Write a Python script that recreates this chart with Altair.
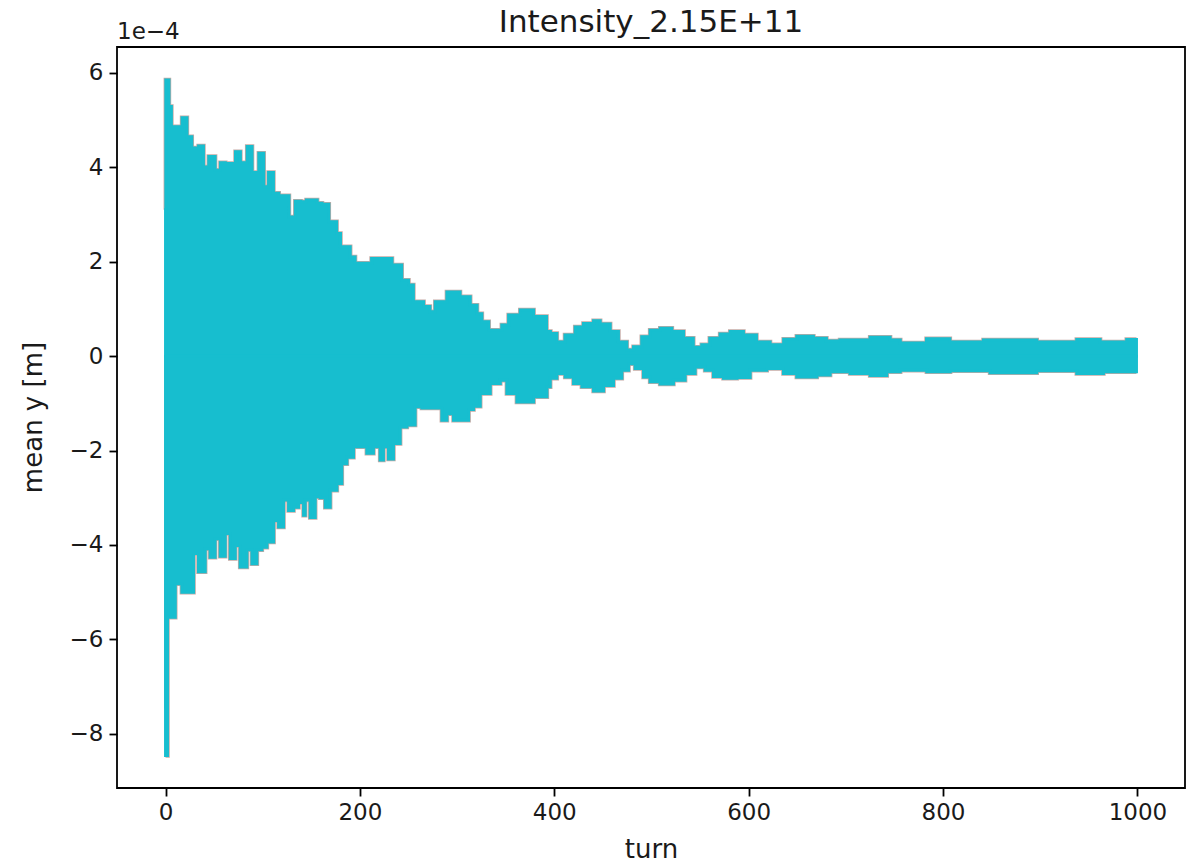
import altair as alt
import pandas as pd

# ---- text ----
TITLE = "Intensity_2.15E+11"
X_TITLE = "turn"
Y_TITLE = "mean y [m]"
OFFSET_TEXT = "1e\u22124"

# ---- data (values in units of 1e-4 m) ----
# upper envelope of the fast (near half-integer tune) oscillation, step-after
upper_turn = [0, 0.3, 3.5, 6, 17, 22, 27, 34, 39, 44.5, 51, 56.5, 61.5, 72, 77, 84, 89, 96,
              101, 106, 111, 116.5, 127, 133.5, 139, 145, 156, 161, 168, 176, 180, 190,
              195, 212, 233, 243, 250, 255, 265.5, 272, 277.5, 289.5, 303, 313.5, 320.5,
              325.5, 332.5, 346, 353, 365, 378.7, 392, 396, 402.6, 411, 421.5, 430, 440.4,
              447.2, 457.5, 466, 474.6, 481.5, 490, 498.6, 509, 521, 533, 543, 551.7, 560,
              570.6, 581, 594.6, 608, 622, 636, 649.5, 666.6, 680, 694, 704, 725, 745.5,
              756, 783, 807, 841.6, 896.4, 937.6, 961.6, 989, 999]
upper_val = [3.1, 5.85, 5.29, 4.86, 5.05, 4.65, 4.41, 4.45, 4.01, 4.23, 3.94, 4.1, 4.08, 4.33,
             4.1, 4.44, 3.89, 4.3, 3.59, 3.89, 3.45, 3.4, 2.95, 3.28, 3.27, 3.31, 3.24, 3.22,
             2.85, 2.6, 2.32, 2.1, 1.97, 2.07, 1.93, 1.61, 1.51, 1.15, 1.05, 0.94, 1.15, 1.36,
             1.26, 1.08, 0.9, 0.73, 0.55, 0.66, 0.87, 0.98, 0.84, 0.52, 0.48, 0.30, 0.45,
             0.62, 0.69, 0.75, 0.68, 0.52, 0.30, 0.13, 0.2, 0.41, 0.55, 0.59, 0.52, 0.38,
             0.19, 0.24, 0.38, 0.47, 0.52, 0.45, 0.30, 0.24, 0.36, 0.42, 0.38, 0.32, 0.34,
             0.34, 0.40, 0.34, 0.28, 0.37, 0.30, 0.34, 0.30, 0.35, 0.30, 0.35, 0.35]

# lower envelope, step-after
lower_turn = [0, 2, 10, 16.8, 28.8, 33.9, 40.8, 45.9, 51, 56.3, 61.4, 66.6, 71.7, 76.8, 83.7,
              88.9, 94, 99.1, 104.3, 111.2, 116.3, 121.4, 126.6, 131.7, 136.8, 142, 143.7,
              148.9, 154, 159.2, 164.3, 169.4, 176.3, 181.4, 186.6, 193.4, 207.1, 213.9,
              220.8, 224.2, 229.4, 234.5, 241.4, 248.3, 256.8, 263.7, 284.3, 289.5, 296.3,
              311.8, 316.9, 323.8, 334.1, 344.4, 351.2, 361.5, 378.7, 392.4, 395.8, 402.6,
              411.2, 419.8, 428.4, 440.4, 450.7, 460.9, 469.5, 476.4, 483.2, 491.8, 498.6,
              508.9, 522.6, 534.6, 544.9, 555.2, 563.8, 574.1, 587.8, 601.5, 618.6, 635.8,
              649.5, 670.1, 683.8, 704.4, 725, 742.1, 755.9, 783.3, 807.3, 848.4, 896.4,
              937.6, 965, 999]
lower_val = [-8.46, -5.53, -4.82, -5.0, -4.18, -4.57, -4.08, -4.26, -3.87, -4.24, -3.76, -4.29,
             -4.01, -4.47, -4.1, -4.4, -4.1, -4.05, -3.94, -3.48, -3.62, -3.05, -3.27, -3.2,
             -3.1, -3.37, -3.05, -3.42, -2.98, -3.0, -3.2, -2.84, -2.7, -2.28, -2.14, -1.92,
             -2.06, -1.92, -2.2, -1.92, -2.18, -1.85, -1.5, -1.46, -1.07, -1.1, -1.36, -1.22,
             -1.36, -1.13, -1.06, -0.79, -0.58, -0.51, -0.79, -0.97, -0.86, -0.65, -0.47,
             -0.37, -0.44, -0.58, -0.65, -0.74, -0.62, -0.47, -0.3, -0.16, -0.26, -0.44,
             -0.54, -0.59, -0.51, -0.37, -0.23, -0.3, -0.43, -0.47, -0.45, -0.3, -0.26, -0.37,
             -0.44, -0.4, -0.33, -0.37, -0.41, -0.33, -0.30, -0.33, -0.31, -0.35, -0.31, -0.37,
             -0.33, -0.33]

# a second (brown) run underneath reaches this value in its first turn
brown_turn = [0, 0.6]
brown_val = [-7.44, -7.44]

x_ticks = [0, 200, 400, 600, 800, 1000]
y_ticks = [-8, -6, -4, -2, 0, 2, 4, 6]
x_domain = [-49.95, 1048.95]
y_domain = [-9.15, 6.55]

CYAN = "#17becf"
BROWN = "#8c564b"
FONT = "DejaVu Sans"
INK = "#1a1a1a"

up = pd.DataFrame({"turn": upper_turn, "y": upper_val})
lo = pd.DataFrame({"turn": lower_turn, "y": lower_val})
br = pd.DataFrame({"turn": brown_turn, "y": brown_val})

x_enc = alt.X(
    "turn:Q",
    scale=alt.Scale(domain=x_domain, nice=False, zero=False),
    axis=alt.Axis(values=x_ticks, format="d", title=X_TITLE, grid=False, domain=False,
                  tickColor="black", tickWidth=1.8, tickSize=8, labelPadding=5,
                  labelFontSize=23, labelColor=INK, labelFont=FONT,
                  titleFont=FONT, titleFontSize=26, titleFontWeight="normal",
                  titleColor=INK, titleBaseline="alphabetic", titleY=69),
)
y_enc = alt.Y(
    "y:Q",
    scale=alt.Scale(domain=y_domain, nice=False, zero=False),
    axis=alt.Axis(values=y_ticks, format="d", title=Y_TITLE, grid=False, domain=False,
                  tickColor="black", tickWidth=1.8, tickSize=8, labelPadding=6,
                  labelFontSize=23, labelColor=INK, labelFont=FONT,
                  titleFont=FONT, titleFontSize=26, titleFontWeight="normal",
                  titleColor=INK, titleBaseline="middle", titleX=-84, titleY=370),
)

brown_run = alt.Chart(br).mark_area(interpolate="step-after", color=BROWN, stroke=BROWN,
                                    strokeWidth=2.5, opacity=0.75).encode(
    x=x_enc, y=y_enc, y2=alt.datum(0))
edge_up = alt.Chart(up).mark_line(interpolate="step-after", color=BROWN, strokeWidth=4.5,
                                  opacity=0.5).encode(x=x_enc, y=y_enc)
edge_lo = alt.Chart(lo).mark_line(interpolate="step-after", color=BROWN, strokeWidth=4.5,
                                  opacity=0.5).encode(x=x_enc, y=y_enc)
band_up = alt.Chart(up).mark_area(interpolate="step-after", color=CYAN, stroke=CYAN,
                                  strokeWidth=3, opacity=1).encode(x=x_enc, y=y_enc, y2=alt.datum(0))
band_lo = alt.Chart(lo).mark_area(interpolate="step-after", color=CYAN, stroke=CYAN,
                                  strokeWidth=3, opacity=1).encode(x=x_enc, y=y_enc, y2=alt.datum(0))

offset_df = pd.DataFrame({"label": [OFFSET_TEXT]})
offset_text = alt.Chart(offset_df).mark_text(
    align="left", baseline="alphabetic", fontSize=23, font=FONT, color=INK
).encode(x=alt.value(0), y=alt.value(-8), text="label:N")

title_df = pd.DataFrame({"label": [TITLE]})
title_text = alt.Chart(title_df).mark_text(
    align="center", baseline="alphabetic", fontSize=31, font=FONT, color=INK
).encode(x=alt.value(534), y=alt.value(-15), text="label:N")

chart = alt.layer(brown_run, edge_up, edge_lo, band_up, band_lo, offset_text, title_text).properties(
    width=1068,
    height=741,
    autosize=alt.AutoSizeParams(type="none"),
    padding={"left": 109, "top": 39, "right": 10, "bottom": 72},
    background="white",
).configure_view(stroke="black", strokeWidth=1.8)

chart.save("out.html", embed_options={"renderer": "svg", "actions": False})
